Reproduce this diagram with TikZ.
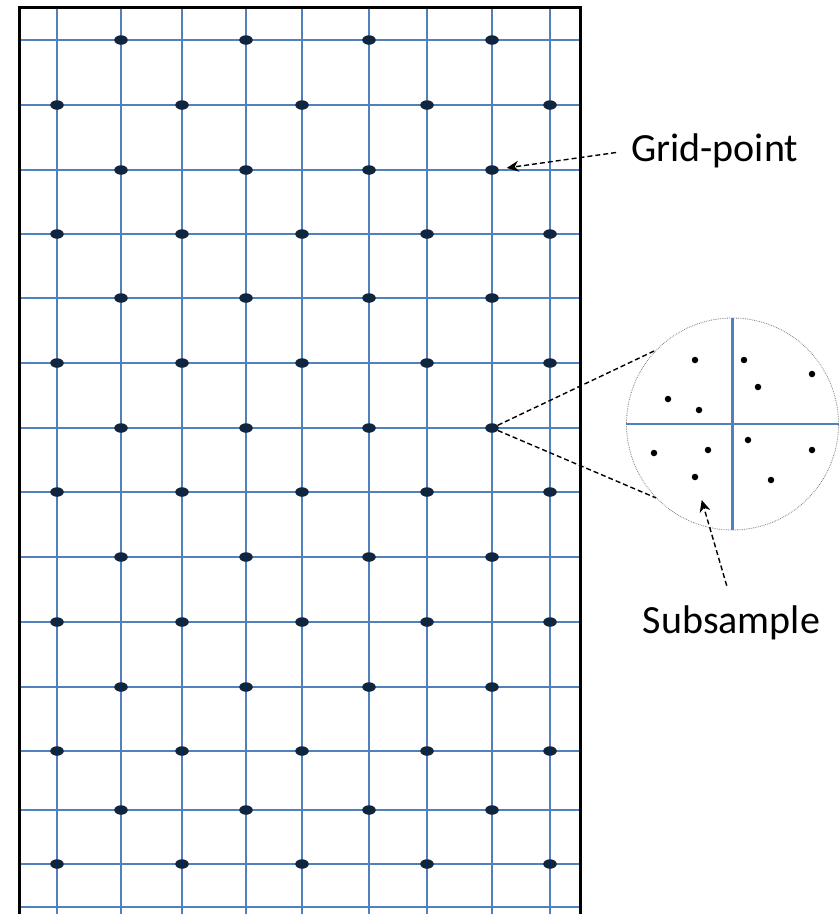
\documentclass[tikz,border=0pt]{standalone}
\usepackage{fontspec}
\setmainfont{Carlito}
\usetikzlibrary{shapes.geometric,arrows.meta,positioning}
\definecolor{gridblue}{RGB}{79,129,189}
\definecolor{dotnavy}{RGB}{16,37,62}

\begin{document}
\begin{tikzpicture}[x=1pt, y=-1pt,
  gridline/.style={gridblue, line width=2.1pt},
  gdot/.style={ellipse, fill=dotnavy, minimum width=13.5pt, minimum height=9.5pt, inner sep=0pt},
  sdot/.style={circle, fill=black, minimum size=6.5pt, inner sep=0pt},
  labeltext/.style={font=\fontsize{40}{48}\selectfont, inner sep=3pt},
  zoomline/.style={dash pattern=on 5pt off 3pt, line width=1.4pt},
  pointer/.style={zoomline, -{Stealth[length=12pt, width=11pt, inset=4pt]}},
]

% Page size
\useasboundingbox (0,0) rectangle (839,914);

% Grid lines
\foreach \y in {40,105,170,234,298,363,428,492,557,622,687,751,810,864,907}
  \draw[gridline] (20,\y) -- (580,\y);
\foreach \x in {57,121,182,246,302,369,427,492,550}
  \draw[gridline] (\x,8) -- (\x,914);

% Frame
\draw[line width=3.5pt] (19.5,914) -- (19.5,7.5) -- (580.5,7.5) -- (580.5,914);

% Grid-points, staggered
\foreach \y [count=\r from 0] in {40,105,170,234,298,363,428,492,557,622,687,751,810,864} {
  \foreach \x [count=\c from 0] in {57,121,182,246,302,369,427,492,550} {
    \ifodd\numexpr\r+\c\relax
      \node[gdot] (g-\r-\c) at (\x,\y) {};
    \fi
  }
}

% Subsample circle
\node[circle, draw=gray, densely dotted, line width=0.8pt, minimum size=212pt, inner sep=0pt] (zoom) at (732.5,424) {};
\draw[gridline] (zoom.north) -- (zoom.south);
\draw[gridline] (zoom.west) -- (zoom.east);
\foreach \x/\y [count=\k] in {695/360, 744/360, 812/374, 758/387, 668/399, 699/410,
                              748/440, 708/450, 654/453, 812/450, 695/477, 771/480}
  \node[sdot] (s\k) at (\x,\y) {};

% Zoom lines
\draw[zoomline] (g-6-7) -- (zoom.136);
\draw[zoomline] (g-6-7) -- (zoom.224);

% Labels
\node[labeltext, anchor=base west] (gp) at (628,161.5) {Grid-point};
\draw[pointer, shorten <=12pt, shorten >=8pt] (gp.west) -- (g-2-7);

\node[labeltext, anchor=base] (ss) at (731.5,633) {Subsample};
\coordinate (ss-tip) at (701.7,500);
\draw[pointer, shorten <=17pt] (ss.north) -- (ss-tip);

\end{tikzpicture}
\end{document}
